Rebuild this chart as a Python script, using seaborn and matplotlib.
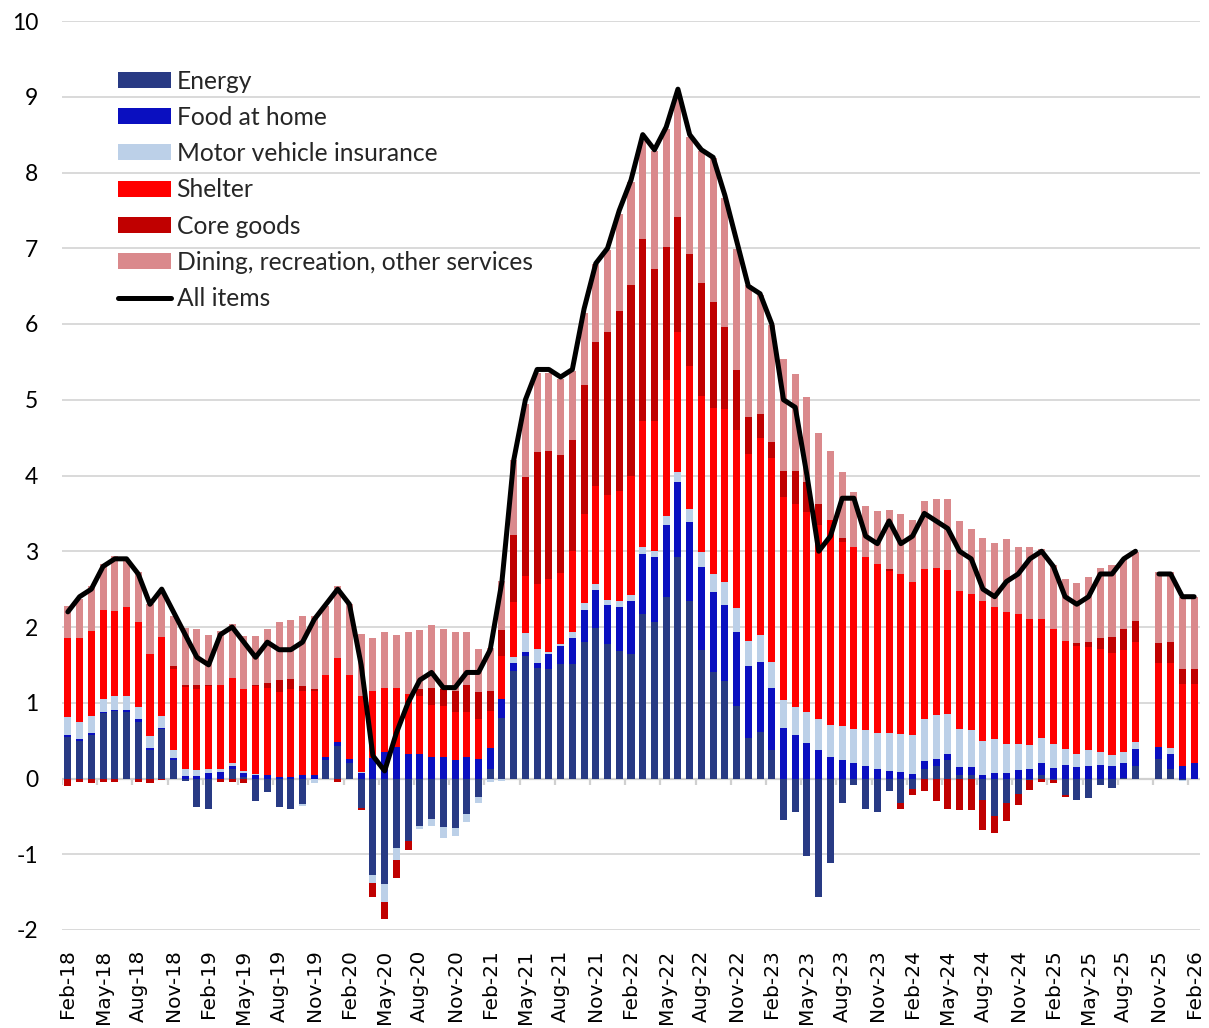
import numpy as np
import pandas as pd
import matplotlib
matplotlib.use("Agg")
import matplotlib.pyplot as plt
import seaborn as sns
from matplotlib.patches import Patch
from matplotlib.lines import Line2D

nan = np.nan

# months Feb-18 .. Feb-26 (Oct-25 has no data)
months = pd.date_range("2018-02-01", "2026-02-01", freq="MS").strftime("%b-%y").tolist()

# contributions to 12-month CPI inflation, percentage points
energy = [0.55, 0.49, 0.57, 0.86, 0.89, 0.88, 0.74, 0.37, 0.66, 0.24,
          -0.03, -0.38, -0.40, 0.0, 0.12, 0.02, -0.30, -0.18, -0.37, -0.40,
          -0.34, 0.0, 0.24, 0.43, 0.20, -0.39, -1.28, -1.39, -0.92, -0.82,
          -0.63, -0.53, -0.64, -0.65, -0.47, -0.25, 0.13, 0.80, 1.42, 1.62,
          1.46, 1.45, 1.51, 1.51, 1.80, 1.99, 1.78, 1.68, 1.65, 2.17,
          2.06, 2.40, 2.93, 2.34, 1.69, 1.41, 1.29, 0.96, 0.53, 0.62,
          0.37, -0.55, -0.44, -1.02, -1.56, -1.12, -0.33, -0.08, -0.40, -0.44,
          -0.16, -0.32, -0.14, 0.13, 0.17, 0.24, 0.05, 0.05, -0.28, -0.49,
          -0.33, -0.20, -0.02, 0.04, -0.02, -0.22, -0.28, -0.26, -0.08, -0.12,
          0.01, 0.17, nan, 0.26, 0.13, -0.02, 0.0]
food_at_home = [0.03, 0.03, 0.03, 0.02, 0.01, 0.02, 0.04, 0.03, 0.01, 0.03,
                0.03, 0.03, 0.07, 0.08, 0.05, 0.05, 0.05, 0.04, 0.02, 0.02,
                0.05, 0.05, 0.05, 0.05, 0.06, 0.07, 0.27, 0.35, 0.42, 0.33,
                0.33, 0.29, 0.28, 0.25, 0.28, 0.26, 0.27, 0.25, 0.10, 0.05,
                0.07, 0.20, 0.24, 0.35, 0.43, 0.50, 0.51, 0.59, 0.69, 0.80,
                0.86, 0.95, 0.98, 1.04, 1.10, 1.05, 1.00, 0.97, 0.96, 0.92,
                0.83, 0.67, 0.58, 0.47, 0.38, 0.29, 0.24, 0.20, 0.16, 0.13,
                0.10, 0.08, 0.06, 0.10, 0.09, 0.09, 0.10, 0.10, 0.05, 0.07,
                0.07, 0.11, 0.13, 0.16, 0.14, 0.18, 0.15, 0.17, 0.18, 0.16,
                0.20, 0.22, nan, 0.15, 0.19, 0.16, 0.21]
motor_insurance = [0.23, 0.22, 0.22, 0.17, 0.19, 0.19, 0.16, 0.16, 0.15, 0.11,
                   0.10, 0.08, 0.05, 0.05, 0.03, 0.03, 0.01, 0.0, 0.0, 0.0,
                   -0.02, -0.06, 0.0, 0.0, 0.0, 0.02, -0.10, -0.24, -0.15, 0.0,
                   -0.04, -0.10, -0.14, -0.11, -0.11, -0.08, -0.05, -0.03, 0.09, 0.25,
                   0.18, 0.02, 0.02, 0.07, 0.09, 0.08, 0.06, 0.07, 0.08, 0.08,
                   0.08, 0.11, 0.14, 0.18, 0.20, 0.24, 0.31, 0.32, 0.33, 0.35,
                   0.34, 0.36, 0.37, 0.41, 0.40, 0.42, 0.45, 0.46, 0.48, 0.47,
                   0.50, 0.51, 0.52, 0.56, 0.58, 0.52, 0.51, 0.49, 0.44, 0.45,
                   0.38, 0.35, 0.31, 0.33, 0.31, 0.21, 0.17, 0.20, 0.17, 0.15,
                   0.14, 0.09, nan, 0.0, 0.08, -0.01, 0.0]
shelter = [1.05, 1.11, 1.13, 1.17, 1.12, 1.17, 1.13, 1.08, 1.05, 1.07,
           1.08, 1.07, 1.10, 1.10, 1.13, 1.08, 1.16, 1.16, 1.12, 1.16,
           1.10, 1.11, 1.08, 1.11, 1.11, 1.00, 0.88, 0.84, 0.77, 0.78,
           0.76, 0.68, 0.68, 0.63, 0.60, 0.53, 0.49, 0.57, 0.72, 0.75,
           0.86, 0.96, 0.94, 1.07, 1.17, 1.29, 1.39, 1.46, 1.58, 1.67,
           1.72, 1.80, 1.85, 1.89, 2.06, 2.19, 2.28, 2.35, 2.47, 2.60,
           2.69, 2.69, 2.67, 2.64, 2.57, 2.70, 2.43, 2.40, 2.29, 2.23,
           2.14, 2.11, 2.01, 1.98, 1.94, 1.90, 1.82, 1.79, 1.85, 1.74,
           1.75, 1.71, 1.67, 1.58, 1.52, 1.43, 1.43, 1.37, 1.36, 1.35,
           1.34, 1.32, nan, 1.12, 1.12, 1.09, 1.04]
core_goods = [-0.10, -0.05, -0.06, -0.04, -0.04, 0.0, -0.04, -0.06, -0.02, 0.03,
              0.02, 0.05, 0.02, -0.04, -0.04, -0.06, 0.02, 0.06, 0.16, 0.13,
              0.07, 0.02, 0.0, -0.05, 0.0, -0.03, -0.18, -0.22, -0.24, -0.13,
              0.09, 0.22, 0.22, 0.28, 0.35, 0.35, 0.27, 0.34, 0.89, 1.31,
              1.74, 1.69, 1.56, 1.47, 1.71, 1.90, 2.15, 2.37, 2.51, 2.40,
              2.01, 1.76, 1.51, 1.47, 1.49, 1.40, 1.08, 0.79, 0.48, 0.32,
              0.21, 0.34, 0.44, 0.39, 0.27, 0.0, 0.05, 0.0, 0.0, 0.0,
              0.03, -0.08, -0.08, -0.17, -0.30, -0.40, -0.41, -0.42, -0.40, -0.23,
              -0.23, -0.15, -0.13, -0.04, -0.04, -0.03, 0.04, 0.06, 0.15, 0.21,
              0.28, 0.28, nan, 0.26, 0.28, 0.20, 0.20]
dining_other = [0.42, 0.52, 0.59, 0.61, 0.73, 0.63, 0.65, 0.66, 0.60, 0.67,
                0.76, 0.74, 0.65, 0.72, 0.71, 0.70, 0.64, 0.71, 0.76, 0.78,
                0.93, 0.97, 0.91, 0.95, 0.93, 0.82, 0.70, 0.75, 0.70, 0.83,
                0.78, 0.83, 0.79, 0.78, 0.71, 0.57, 0.56, 0.65, 0.98, 0.97,
                1.04, 1.03, 1.01, 0.91, 0.95, 1.03, 1.09, 1.28, 1.37, 1.29,
                1.56, 1.55, 1.60, 1.55, 1.75, 1.90, 1.70, 1.60, 1.75, 1.57,
                1.55, 1.48, 1.28, 1.12, 0.94, 0.91, 0.87, 0.72, 0.67, 0.70,
                0.78, 0.79, 0.82, 0.89, 0.91, 0.94, 0.92, 0.87, 0.84, 0.85,
                0.96, 0.88, 0.94, 0.92, 0.85, 0.82, 0.79, 0.86, 0.92, 0.95,
                0.93, 0.91, nan, 0.93, 0.92, 0.94, 0.94]
all_items = [2.2, 2.4, 2.5, 2.8, 2.9, 2.9, 2.7, 2.3, 2.5, 2.2,
             1.9, 1.6, 1.5, 1.9, 2.0, 1.8, 1.6, 1.8, 1.7, 1.7,
             1.8, 2.1, 2.3, 2.5, 2.3, 1.5, 0.3, 0.1, 0.6, 1.0,
             1.3, 1.4, 1.2, 1.2, 1.4, 1.4, 1.7, 2.6, 4.2, 5.0,
             5.4, 5.4, 5.3, 5.4, 6.2, 6.8, 7.0, 7.5, 7.9, 8.5,
             8.3, 8.6, 9.1, 8.5, 8.3, 8.2, 7.7, 7.1, 6.5, 6.4,
             6.0, 5.0, 4.9, 4.0, 3.0, 3.2, 3.7, 3.7, 3.2, 3.1,
             3.4, 3.1, 3.2, 3.5, 3.4, 3.3, 3.0, 2.9, 2.5, 2.4,
             2.6, 2.7, 2.9, 3.0, 2.8, 2.4, 2.3, 2.4, 2.7, 2.7,
             2.9, 3.0, nan, 2.7, 2.7, 2.4, 2.4]

series = ["Energy", "Food at home", "Motor vehicle insurance", "Shelter",
          "Core goods", "Dining, recreation, other services"]
colors = ["#283a84", "#0a0fc0", "#bcd0e8", "#ff0000", "#c00000", "#da898c"]

df = pd.DataFrame(dict(zip(series, [energy, food_at_home, motor_insurance,
                                    shelter, core_goods, dining_other])))
df["All items"] = all_items
df["x"] = np.arange(len(months))

sns.set_theme(style="white")
plt.rcParams["font.family"] = ["Lato", "DejaVu Sans"]
plt.rcParams["axes.unicode_minus"] = False

fig = plt.figure(figsize=(12.09, 10.28), dpi=100)
ax = fig.add_axes([62 / 1209, 98 / 1028, 1138 / 1209, 909 / 1028])

# stacked bars, positives up and negatives down (Excel style)
x = df["x"].to_numpy()
pos_bottom = np.zeros(len(x))
neg_bottom = np.zeros(len(x))
for name, col in zip(series, colors):
    v = np.nan_to_num(df[name].to_numpy())
    pos = np.where(v > 0, v, 0)
    neg = np.where(v < 0, v, 0)
    ax.bar(x, pos, 0.6, bottom=pos_bottom, color=col, linewidth=0, zorder=2)
    ax.bar(x, neg, 0.6, bottom=neg_bottom, color=col, linewidth=0, zorder=2)
    pos_bottom += pos
    neg_bottom += neg

# headline line, broken where a month is missing
line_df = df[["x", "All items"]].copy()
line_df["seg"] = line_df["All items"].isna().cumsum()
line_df = line_df.dropna()
sns.lineplot(data=line_df, x="x", y="All items", units="seg", estimator=None,
             color="black", linewidth=3.6, ax=ax, legend=False, zorder=3)

ax.set_xlim(-0.5, len(months) - 0.5)
ax.set_ylim(-2, 10)
ax.set_yticks(range(-2, 11))
ax.set_yticklabels([str(v) for v in range(-2, 11)])
ax.set_xticks(x[::3])
ax.set_xticklabels(months[::3], rotation=90, family="DejaVu Sans")
ax.tick_params(axis="x", length=0, pad=14, labelsize=14.5, colors="black")
ax.tick_params(axis="y", length=0, pad=17, labelsize=16.5, colors="black")
for lab in ax.get_yticklabels():
    lab.set_horizontalalignment("right")
ax.set_xlabel("")
ax.set_ylabel("")
ax.yaxis.grid(True, color="#d9d9d9", linewidth=1.4, zorder=0)
ax.set_axisbelow(True)
for s in ax.spines.values():
    s.set_visible(False)

# category axis at zero with tick marks every 3 months
ax.axhline(0, color="#d0d0d0", linewidth=1.6, zorder=1)
ax.vlines(np.arange(-0.5, len(months), 3), -0.08, 0, color="#d0d0d0",
          linewidth=1.6, zorder=1)

handles = [Patch(facecolor=c, edgecolor="none") for c in colors]
handles.append(Line2D([0], [0], color="black", linewidth=3.6))
ax.legend(handles, series + ["All items"], loc="upper left",
          bbox_to_anchor=(0.049, 0.9466), frameon=False, fontsize=17.7,
          handlelength=2.16, handleheight=0.62, handletextpad=0.23,
          labelspacing=0.54, borderaxespad=0, borderpad=0)

fig.savefig("out.png", dpi=100)
